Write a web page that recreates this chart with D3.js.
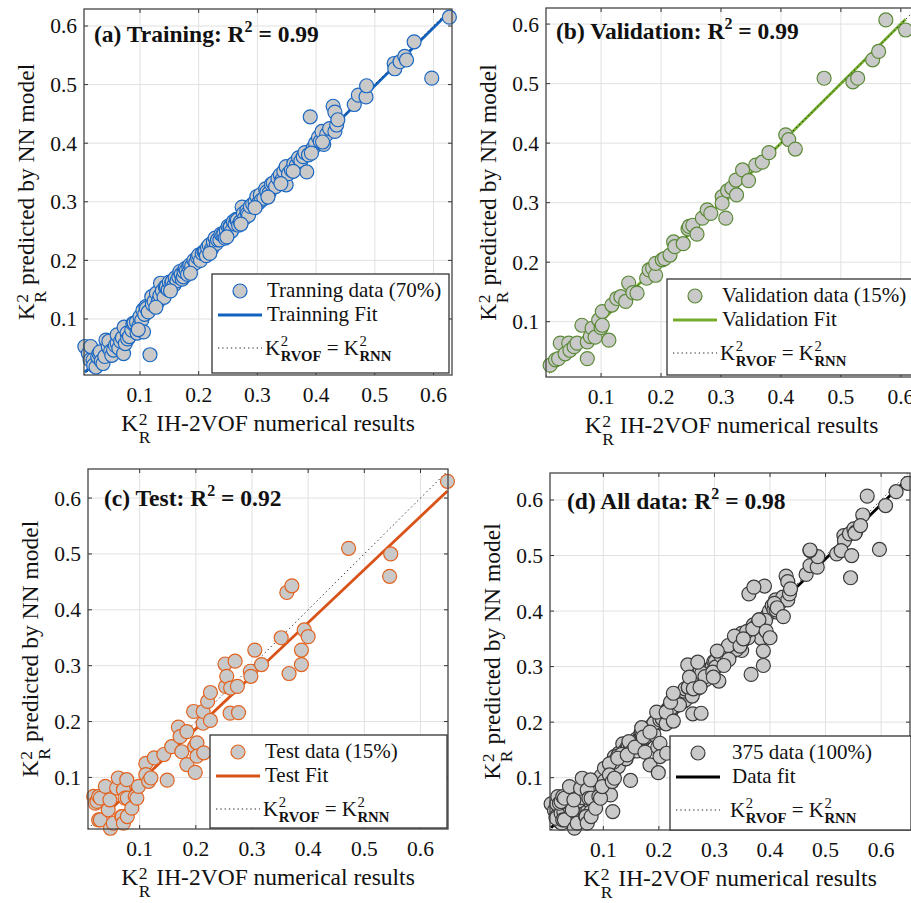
<!DOCTYPE html>
<html><head><meta charset="utf-8">
<script src="https://cdn.jsdelivr.net/npm/d3@7"></script>
<style>
body{margin:0;background:#fff;}
text{font-family:"Liberation Serif","Times New Roman",serif;fill:#111;}
</style>
</head><body>
<svg id="c" width="911" height="903"></svg>
<script>
// ---------------- DATA ----------------
const trainingPoints = [
[0.006,0.053],[0.012,0.041],[0.015,0.030],[0.016,0.053],[0.020,0.030],[0.021,0.021],[0.025,0.018],[0.028,0.035],
[0.030,0.041],[0.032,0.044],[0.034,0.028],[0.037,0.024],[0.040,0.036],[0.042,0.064],[0.046,0.052],[0.047,0.062],
[0.050,0.045],[0.052,0.038],[0.055,0.047],[0.058,0.055],[0.061,0.059],[0.061,0.073],[0.064,0.050],[0.067,0.062],
[0.070,0.068],[0.072,0.041],[0.073,0.086],[0.075,0.058],[0.078,0.076],[0.079,0.066],[0.082,0.070],[0.086,0.081],
[0.088,0.092],[0.090,0.093],[0.094,0.095],[0.095,0.076],[0.098,0.088],[0.100,0.104],[0.103,0.098],[0.105,0.115],
[0.106,0.078],[0.108,0.108],[0.110,0.121],[0.111,0.118],[0.114,0.112],[0.117,0.039],[0.120,0.138],[0.121,0.125],
[0.124,0.130],[0.128,0.144],[0.131,0.130],[0.132,0.132],[0.134,0.140],[0.135,0.161],[0.138,0.148],[0.141,0.137],
[0.143,0.155],[0.145,0.155],[0.148,0.150],[0.150,0.163],[0.154,0.162],[0.155,0.164],[0.158,0.158],[0.160,0.170],
[0.163,0.165],[0.166,0.172],[0.168,0.181],[0.170,0.176],[0.172,0.168],[0.174,0.172],[0.175,0.181],[0.177,0.186],
[0.179,0.183],[0.181,0.176],[0.183,0.189],[0.185,0.192],[0.188,0.190],[0.192,0.200],[0.195,0.196],[0.198,0.205],
[0.200,0.209],[0.203,0.200],[0.206,0.212],[0.209,0.215],[0.211,0.215],[0.213,0.208],[0.215,0.222],[0.218,0.226],
[0.222,0.220],[0.225,0.232],[0.228,0.238],[0.230,0.229],[0.232,0.235],[0.236,0.235],[0.238,0.245],[0.241,0.244],
[0.243,0.246],[0.245,0.238],[0.247,0.251],[0.250,0.258],[0.253,0.257],[0.254,0.257],[0.256,0.250],[0.259,0.266],
[0.262,0.262],[0.264,0.270],[0.266,0.269],[0.268,0.260],[0.271,0.266],[0.274,0.291],[0.276,0.280],[0.278,0.272],
[0.282,0.285],[0.283,0.280],[0.285,0.277],[0.288,0.292],[0.292,0.296],[0.296,0.300],[0.299,0.309],[0.302,0.298],
[0.305,0.312],[0.307,0.303],[0.311,0.306],[0.314,0.322],[0.316,0.317],[0.320,0.315],[0.324,0.330],[0.327,0.332],
[0.331,0.326],[0.335,0.340],[0.339,0.346],[0.342,0.338],[0.345,0.352],[0.349,0.360],[0.349,0.329],[0.353,0.348],
[0.358,0.354],[0.362,0.365],[0.366,0.362],[0.370,0.375],[0.374,0.370],[0.378,0.377],[0.381,0.384],[0.384,0.351],
[0.387,0.380],[0.390,0.445],[0.395,0.392],[0.399,0.400],[0.404,0.410],[0.407,0.403],[0.410,0.420],[0.413,0.398],
[0.418,0.415],[0.423,0.425],[0.429,0.463],[0.432,0.453],[0.432,0.420],[0.435,0.431],[0.437,0.440],[0.465,0.466],
[0.472,0.482],[0.485,0.479],[0.486,0.498],[0.533,0.536],[0.534,0.527],[0.543,0.539],[0.551,0.548],[0.554,0.542],
[0.567,0.573],[0.597,0.511],[0.627,0.615],
[0.097,0.082],[0.127,0.120],[0.152,0.148],[0.186,0.178],[0.219,0.212],[0.248,0.240],[0.272,0.262],[0.296,0.290],
[0.318,0.308],[0.340,0.331],[0.361,0.352],[0.392,0.383],[0.411,0.402]
];
const validationPoints = [
[0.015,0.027],[0.024,0.036],[0.029,0.038],[0.032,0.064],[0.040,0.046],[0.046,0.064],[0.048,0.052],[0.055,0.058],
[0.060,0.064],[0.068,0.094],[0.077,0.066],[0.077,0.038],[0.082,0.075],[0.085,0.089],[0.090,0.074],[0.096,0.103],
[0.100,0.090],[0.102,0.117],[0.102,0.094],[0.113,0.069],[0.118,0.128],[0.126,0.139],[0.133,0.142],[0.141,0.134],
[0.146,0.165],[0.153,0.149],[0.160,0.148],[0.176,0.173],[0.180,0.187],[0.186,0.190],[0.191,0.178],[0.191,0.198],
[0.202,0.204],[0.206,0.206],[0.215,0.212],[0.221,0.234],[0.223,0.226],[0.237,0.231],[0.245,0.256],[0.247,0.260],
[0.253,0.262],[0.260,0.247],[0.269,0.274],[0.277,0.288],[0.283,0.282],[0.302,0.310],[0.302,0.299],[0.308,0.274],
[0.311,0.320],[0.318,0.325],[0.325,0.338],[0.326,0.313],[0.336,0.355],[0.346,0.337],[0.358,0.363],[0.369,0.368],
[0.380,0.384],[0.408,0.414],[0.413,0.406],[0.424,0.390],[0.472,0.509],[0.520,0.503],[0.528,0.509],[0.553,0.540],
[0.563,0.554],[0.575,0.607],[0.608,0.590]
];
const testPoints = [
[0.018,0.066],[0.021,0.054],[0.024,0.057],[0.027,0.024],[0.027,0.066],[0.030,0.063],[0.030,0.024],[0.039,0.084],
[0.044,0.042],[0.047,0.060],[0.048,0.009],[0.053,0.018],[0.059,0.081],[0.062,0.099],[0.068,0.030],[0.069,0.030],
[0.071,0.018],[0.071,0.078],[0.074,0.063],[0.077,0.096],[0.078,0.030],[0.078,0.063],[0.086,0.045],[0.092,0.066],
[0.095,0.063],[0.098,0.084],[0.111,0.125],[0.111,0.105],[0.116,0.093],[0.120,0.099],[0.126,0.135],[0.143,0.141],
[0.149,0.095],[0.157,0.155],[0.169,0.190],[0.172,0.173],[0.175,0.146],[0.184,0.182],[0.184,0.123],[0.196,0.218],
[0.198,0.155],[0.199,0.109],[0.202,0.162],[0.202,0.138],[0.213,0.197],[0.213,0.218],[0.214,0.144],[0.221,0.236],
[0.226,0.252],[0.226,0.202],[0.252,0.303],[0.253,0.263],[0.255,0.281],[0.261,0.215],[0.262,0.260],[0.270,0.308],
[0.274,0.263],[0.276,0.216],[0.297,0.290],[0.298,0.281],[0.305,0.328],[0.317,0.302],[0.352,0.350],[0.362,0.431],
[0.366,0.286],[0.371,0.443],[0.388,0.328],[0.388,0.302],[0.393,0.364],[0.400,0.352],[0.472,0.510],[0.545,0.460],
[0.547,0.500],[0.648,0.630]
];
const allPoints = trainingPoints.concat(validationPoints, testPoints);

const tickValues = [0.1, 0.2, 0.3, 0.4, 0.5, 0.6];
const tickLabels = ["0.1", "0.2", "0.3", "0.4", "0.5", "0.6"];
const panelTitles = ["(a) Training: R", "(b) Validation: R", "(c) Test: R", "(d) All data: R"];
const r2Values = ["0.99", "0.99", "0.92", "0.98"];
const dataLabels = ["Tranning data (70%)", "Validation data (15%)", "Test data (15%)", "375 data (100%)"];
const fitLabels = ["Trainning Fit", "Validation Fit", "Test Fit", "Data fit"];
const fitSlopes = [0.99, 1.0, 0.95, 0.98];
const fitIntercepts = [0.003, 0.0, -0.003, 0.004];
const xLabelRest = " IH-2VOF numerical results";
const yLabelRest = " predicted by NN model";

// ---------------- LAYOUT / STYLE ----------------
const panels = [
  {pts: trainingPoints, left:84, right:452, top:9, bottom:375, xDom:[0.0046,0.6315], yDom:[0.0044,0.629],
   edge:"#1a67c2", line:"#1262c0", title:[10,33], legend:{x:212,y:274,w:237,h:99,tx:55}},
  {pts: validationPoints, left:546, right:917, top:8, bottom:377, xDom:[0.0081,0.627], yDom:[0.0071,0.627],
   edge:"#5b8a36", line:"#74ad2c", title:[10,31], legend:{x:667,y:279,w:250,h:96,tx:55}},
  {pts: testPoints, left:88, right:448, top:469, bottom:829, xDom:[0.008,0.649], yDom:[0.0077,0.652],
   edge:"#e2621f", line:"#d95319", title:[16,37], legend:{x:210,y:735,w:237,h:93,tx:55}},
  {pts: allPoints, left:550, right:910, top:473, bottom:830, xDom:[0.004,0.652], yDom:[0.0058,0.6486],
   edge:"#3a3a3a", line:"#000000", title:[17,36], legend:{x:670,y:736,w:241,h:94,tx:62}}
];

const svg = d3.select("#c");
svg.append("rect").attr("width",911).attr("height",903).attr("fill","#fff");

// measure helper
function textW(str, size, weight) {
  const t = svg.append("text").style("font-size",size+"px").style("font-weight",weight||null)
    .attr("xml:space","preserve").text(str);
  const w = t.node().getComputedTextLength(); t.remove(); return w;
}
// composite "K^2_sub" expression as ONE text element with positioned tspans; returns width
function kExpr(g, fs, parts, o) {
  const t = g.append("text").attr("x",0).attr("y",0).attr("xml:space","preserve").style("font-size",fs+"px");
  let x = 0;
  parts.forEach(p => {
    if (p.t) {
      t.append("tspan").attr("x",x).attr("y",0).text(p.t);
      x += textW(p.t, fs);
    }
    if (p.sub) {
      x += 0.5;
      t.append("tspan").attr("x",x).attr("y",o.supY*fs).style("font-size",(o.supS*fs)+"px").text("2");
      t.append("tspan").attr("x",x).attr("y",o.subY*fs).style("font-size",(o.subS*fs)+"px")
        .style("font-weight",o.subBold?"bold":null).text(p.sub);
      x += Math.max(textW("2", o.supS*fs), textW(p.sub, o.subS*fs, o.subBold?"bold":null));
    }
  });
  return x;
}

const fs = 21.5, labFs = 23.5, legFs = 21, r = 7;
panels.forEach((P, i) => {
  const x = d3.scaleLinear().domain(P.xDom).range([P.left, P.right]);
  const y = d3.scaleLinear().domain(P.yDom).range([P.bottom, P.top]);
  const g = svg.append("g");

  // background + grid
  g.append("rect").attr("x",P.left).attr("y",P.top).attr("width",P.right-P.left).attr("height",P.bottom-P.top).attr("fill","#fff");
  g.selectAll(".gx").data(tickValues).enter().append("line")
    .attr("x1",d=>x(d)).attr("x2",d=>x(d)).attr("y1",P.top).attr("y2",P.bottom)
    .attr("stroke","#e1e1e1").attr("stroke-width",1);
  g.selectAll(".gy").data(tickValues).enter().append("line")
    .attr("y1",d=>y(d)).attr("y2",d=>y(d)).attr("x1",P.left).attr("x2",P.right)
    .attr("stroke","#e1e1e1").attr("stroke-width",1);

  // fit line
  const xs = P.pts.map(d=>d[0]);
  const fx = [d3.min(xs), d3.max(xs)];
  g.append("line")
    .attr("x1",x(fx[0])).attr("y1",y(fitSlopes[i]*fx[0]+fitIntercepts[i]))
    .attr("x2",x(fx[1])).attr("y2",y(fitSlopes[i]*fx[1]+fitIntercepts[i]))
    .attr("stroke",P.line).attr("stroke-width",2.8);
  // identity line
  const lo = Math.max(P.xDom[0],P.yDom[0]), hi = Math.min(P.xDom[1],P.yDom[1]);
  g.append("line").attr("x1",x(lo)).attr("y1",y(lo)).attr("x2",x(hi)).attr("y2",y(hi))
    .attr("stroke","#222").attr("stroke-width",1).attr("stroke-dasharray","1.3,3");

  // points
  g.selectAll(".pt").data(P.pts).enter().append("circle")
    .attr("cx",d=>x(d[0])).attr("cy",d=>y(d[1])).attr("r",r)
    .attr("fill","#c9c9c9").attr("stroke",P.edge).attr("stroke-width",1.2);

  // axes box + ticks (inside)
  const tl = 4;
  tickValues.forEach(v => {
    g.append("line").attr("x1",x(v)).attr("x2",x(v)).attr("y1",P.bottom).attr("y2",P.bottom-tl).attr("stroke","#333");
    g.append("line").attr("x1",x(v)).attr("x2",x(v)).attr("y1",P.top).attr("y2",P.top+tl).attr("stroke","#333");
    g.append("line").attr("y1",y(v)).attr("y2",y(v)).attr("x1",P.left).attr("x2",P.left+tl).attr("stroke","#333");
    g.append("line").attr("y1",y(v)).attr("y2",y(v)).attr("x1",P.right).attr("x2",P.right-tl).attr("stroke","#333");
  });
  g.append("rect").attr("x",P.left).attr("y",P.top).attr("width",P.right-P.left).attr("height",P.bottom-P.top)
    .attr("fill","none").attr("stroke","#444").attr("stroke-width",1.3);

  // tick labels
  g.selectAll(".xt").data(tickValues).enter().append("text")
    .attr("x",d=>x(d)).attr("y",P.bottom+27).attr("text-anchor","middle")
    .style("font-size",fs+"px").text((d,j)=>tickLabels[j]);
  g.selectAll(".yt").data(tickValues).enter().append("text")
    .attr("x",P.left-7).attr("y",d=>y(d)+7.5).attr("text-anchor","end")
    .style("font-size",fs+"px").text((d,j)=>tickLabels[j]);

  // axis labels
  const axOpt = {supY:-0.26, supS:0.75, subY:0.5, subS:0.75, subBold:false};
  const xl = g.append("g");
  const wX = kExpr(xl, labFs, [{t:"K", sub:"R"},{t:xLabelRest}], axOpt);
  xl.attr("transform",`translate(${(P.left+P.right)/2 - wX/2},${P.bottom+56})`);
  const ylg = g.append("g");
  const wY = kExpr(ylg, labFs, [{t:"K", sub:"R"},{t:yLabelRest}], axOpt);
  ylg.attr("transform",`translate(${P.left-50},${(P.top+P.bottom)/2 + wY/2}) rotate(-90)`);

  // title
  const tg = g.append("text").attr("x",P.left+P.title[0]).attr("y",P.top+P.title[1])
    .style("font-size","23.5px").style("font-weight","bold");
  tg.append("tspan").text(panelTitles[i]);
  tg.append("tspan").attr("dy",-10).style("font-size","16px").text("2");
  tg.append("tspan").attr("dy",10).attr("xml:space","preserve").text(" = " + r2Values[i]);

  // legend
  const L = P.legend;
  const lg = svg.append("g");
  lg.append("rect").attr("x",L.x).attr("y",L.y).attr("width",L.w).attr("height",L.h)
    .attr("fill","#fff").attr("stroke","#333").attr("stroke-width",1.3);
  lg.append("circle").attr("cx",L.x+28).attr("cy",L.y+17).attr("r",r)
    .attr("fill","#c9c9c9").attr("stroke",P.edge).attr("stroke-width",1.2);
  lg.append("text").attr("x",L.x+L.tx).attr("y",L.y+23).style("font-size",legFs+"px").text(dataLabels[i]);
  lg.append("line").attr("x1",L.x+6).attr("x2",L.x+50).attr("y1",L.y+41).attr("y2",L.y+41)
    .attr("stroke",P.line).attr("stroke-width",2.8);
  lg.append("text").attr("x",L.x+L.tx).attr("y",L.y+47).style("font-size",legFs+"px").text(fitLabels[i]);
  lg.append("line").attr("x1",L.x+6).attr("x2",L.x+50).attr("y1",L.y+74).attr("y2",L.y+74)
    .attr("stroke","#222").attr("stroke-width",1).attr("stroke-dasharray","1.3,3");
  const eq = lg.append("g").attr("transform",`translate(${L.x+L.tx-2},${L.y+81})`);
  kExpr(eq, legFs, [{t:"K", sub:"RVOF"},{t:" = K", sub:"RNN"}],
        {supY:-0.44, supS:0.7, subY:0.3, subS:0.7, subBold:true});
});
</script>
</body></html>
